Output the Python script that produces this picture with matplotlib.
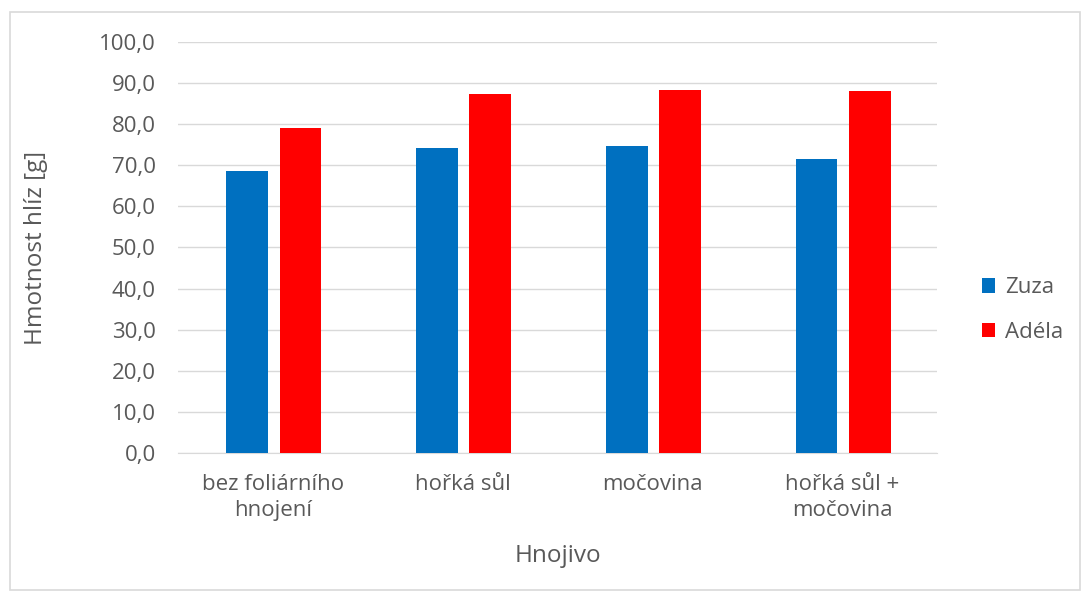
import numpy as np
import matplotlib.pyplot as plt
from matplotlib.patches import Rectangle

# data
categories = ['bez foliárního\nhnojení', 'hořká sůl', 'močovina', 'hořká sůl +\nmočovina']
zuza = [68.7, 74.1, 74.8, 71.5]
adela = [79.0, 87.3, 88.3, 88.0]
series_names = ['Zuza', 'Adéla']
yticks = np.arange(0, 101, 10)

plt.rcParams['font.family'] = ['Open Sans', 'DejaVu Sans']
text_color = '#595959'

fig = plt.figure(figsize=(10.86, 5.98), dpi=100)
ax = fig.add_axes([178 / 1086, 1 - 453 / 598, (937 - 178) / 1086, (453 - 42) / 598])

x = np.arange(len(categories))
w = 0.22
ax.bar(x - 0.135, zuza, w, color='#0070C0', label=series_names[0], zorder=3)
ax.bar(x + 0.145, adela, w, color='#FF0000', label=series_names[1], zorder=3)

ax.set_xlim(-0.5, len(categories) - 0.5)
ax.set_ylim(0, 100)
ax.set_yticks(yticks)
ax.set_yticklabels([f'{v:.1f}'.replace('.', ',') for v in yticks], color=text_color, fontsize=16)
ax.set_xticks(x)
ax.set_xticklabels(categories, color=text_color, fontsize=16, linespacing=1.35, va='top')
ax.tick_params(axis='y', length=0, pad=16)
ax.tick_params(axis='x', length=0, pad=15)
ax.grid(axis='y', color='#d9d9d9', linewidth=1, zorder=0)
for s in ['top', 'right', 'left']:
    ax.spines[s].set_visible(False)
ax.spines['bottom'].set_color('#d9d9d9')

# axis titles, placed by their centres
ax.set_ylabel('Hmotnost hlíz [g]', color=text_color, fontsize=17.5)
ax.yaxis.set_label_coords((36 - 178) / 759, 0.5)
ax.yaxis.label.set_va('center')
ax.set_xlabel('Hnojivo', color=text_color, fontsize=17.5)
ax.xaxis.set_label_coords(0.5, (453 - 556) / 411)
ax.xaxis.label.set_va('center')

ax.legend(loc='center left', bbox_to_anchor=(962 / 1086, 288 / 598), bbox_transform=fig.transFigure,
          frameon=False, fontsize=16, labelcolor=text_color, handlelength=0.6, handleheight=0.6,
          handletextpad=0.45, labelspacing=1.05)

# outer chart border
fig.patches.append(Rectangle((10 / 1086, 8 / 598), 1070 / 1086, 578 / 598, transform=fig.transFigure,
                             fill=False, edgecolor='#d9d9d9', linewidth=1.2))

fig.savefig('out.png', dpi=100)
